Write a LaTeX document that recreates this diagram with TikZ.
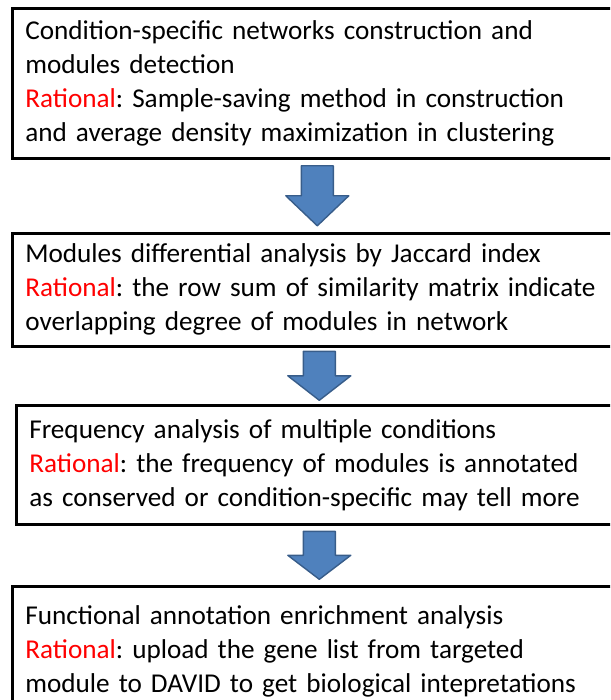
\documentclass[tikz,border=0pt]{standalone}
\usepackage{fontspec}
\setmainfont{Carlito}
\usepackage{xcolor}
\usetikzlibrary{positioning,calc}
\definecolor{arrowblue}{RGB}{79,129,189}
\definecolor{arrowedge}{RGB}{56,93,138}
\newcommand{\rat}{\textcolor{red}{Rational}}
\frenchspacing

\begin{document}
\begin{tikzpicture}[
      x=1pt, y=-1pt,
      stage/.style={rectangle, draw=black, line width=2.6pt, anchor=north west,
                    align=left, font=\fontsize{27.2}{34}\selectfont,
                    text width=584pt, inner xsep=13pt, inner ysep=4pt,
                    minimum width=610pt},
      blockarrow/.pic={
        \draw[fill=arrowblue, draw=arrowedge, line width=1.4pt, line join=round]
          (-16,-#1/2) -- (16,-#1/2) -- (16,0) -- (31.5,0) -- (0,#1/2)
          -- (-31.5,0) -- (-16,0) -- cycle;
      },
    ]
      \clip (0,0) rectangle (610,700);
      \node[stage, minimum height=150pt] (cond) at (11,7)
            {Condition-specific networks construction and\\
             modules detection\\
             \rat: Sample-saving method in construction\\
             and average density maximization in clustering};
      \node[stage, minimum height=113pt] (diff) at (11,232)
            {Modules differential analysis by Jaccard index\\
             \rat: the row sum of similarity matrix indicate\\
             overlapping degree of modules in network};
      \node[stage, minimum height=119pt] (freq) at (15,404)
            {Frequency analysis of multiple conditions\\
             \rat: the frequency of modules is annotated\\
             as conserved or condition-specific may tell more};
      \node[stage, minimum height=130pt] (func) at (11,585)
            {Functional annotation enrichment analysis\\
             \rat: upload the gene list from targeted\\
             module to DAVID to get biological intepretations};
      % block arrows between the stages
      \path ($(cond.south)!0.5!(diff.north)$) pic {blockarrow=60};
      \path ($(diff.south)!0.5!(freq.north)$) pic {blockarrow=49};
      \path ($(freq.south)!0.5!(func.north)$) pic {blockarrow=48};
    \end{tikzpicture}
\end{document}
